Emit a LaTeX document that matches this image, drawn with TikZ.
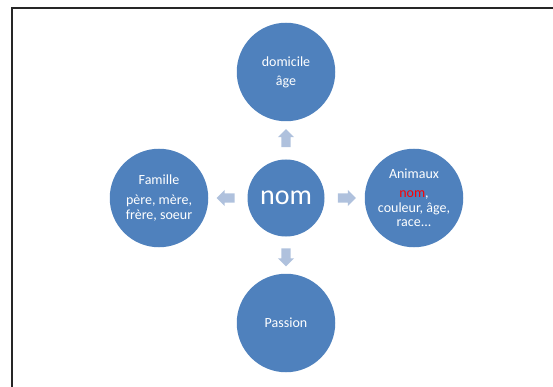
\documentclass[tikz,border=0pt]{standalone}
\usepackage{fontspec}
\setmainfont{Carlito}
\usetikzlibrary{shapes.arrows,calc}
\definecolor{circblue}{HTML}{4F81BD}
\definecolor{arrblue}{HTML}{AFC1DD}
\definecolor{redtext}{HTML}{FF0000}
\begin{document}
\begin{tikzpicture}[x=1pt,y=-1pt,
  bubble/.style={circle, fill=circblue, minimum size=98.5pt, inner sep=0pt,
    text=white, align=center, font=\fontsize{14}{14.8}\selectfont},
  hub/.style={circle, fill=circblue, minimum size=77pt, inner sep=0pt,
    text=white, font=\fontsize{28}{30}\selectfont},
  blockarrow/.style={single arrow, fill=arrblue, draw=none, inner xsep=0pt,
    inner ysep=4.5pt, minimum height=18pt, single arrow head extend=3.5pt},
  frameline/.style={draw=black!85, line width=1.8pt}
]
\useasboundingbox (0,0) rectangle (553,387);
\draw[frameline] (12,387) -- (12,8) -- (555,8);

\node[hub] (nom) at (286,198) {nom};
\node[bubble] (top) at (286,72) {domicile\\[4pt]âge};
\node[bubble] (left) at (159,198) {Famille\\[5pt]père, mère,\\frère, soeur};
\node[bubble] (right) at (414,198) {Animaux\\[4pt]{\color{redtext}nom},\\couleur, âge,\\race...};
\node[bubble] (bottom) at (286,323) {Passion};

\node[blockarrow, rotate=90] (aup) at ($(nom.north)!0.5!(top.south)$) {};
\node[blockarrow, rotate=-90] (adown) at ($(nom.south)!0.5!(bottom.north)$) {};
\node[blockarrow, rotate=180] (aleft) at ($(nom.west)!0.5!(left.east)$) {};
\node[blockarrow] (aright) at ($(nom.east)!0.5!(right.west)$) {};
\end{tikzpicture}
\end{document}
